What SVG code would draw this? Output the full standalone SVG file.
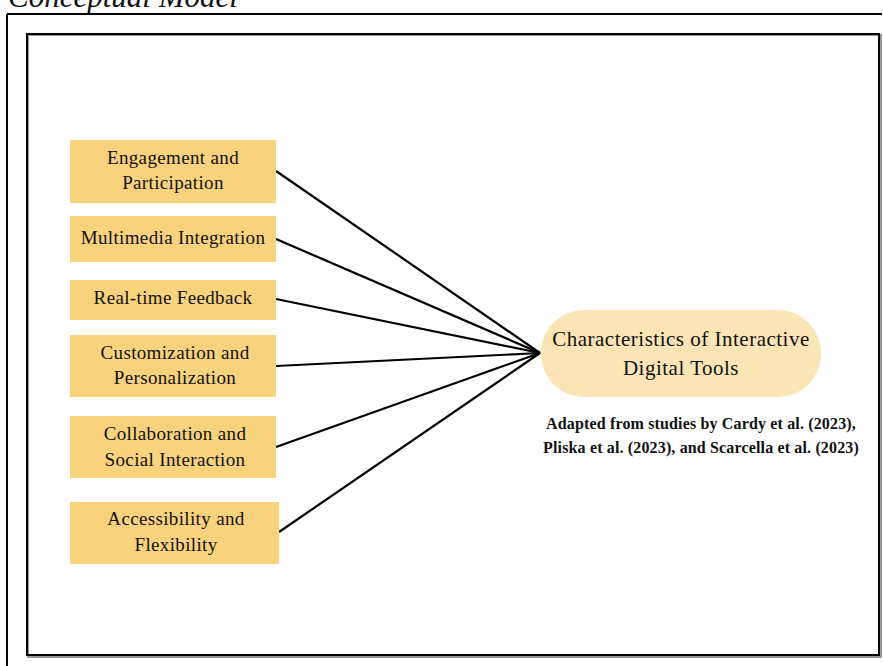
<svg xmlns="http://www.w3.org/2000/svg" width="883" height="666" viewBox="0 0 883 666">
<style>
.box{fill:#F9D27C;}
.t{font-family:"Liberation Serif","Times New Roman",serif;font-size:19px;letter-spacing:0.35px;fill:#111;text-anchor:middle;}
.c{font-family:"Liberation Serif","Times New Roman",serif;font-size:21px;letter-spacing:0.5px;fill:#111;text-anchor:middle;}
.b{font-family:"Liberation Serif","Times New Roman",serif;font-size:16px;font-weight:bold;letter-spacing:0.15px;fill:#111;text-anchor:middle;}
.ln{stroke:#000;stroke-width:2.2;fill:none;}
</style>
<rect width="883" height="666" fill="#fff"/>
<text x="8" y="7" font-family="Liberation Serif, serif" font-size="31" font-style="italic" fill="#111">Conceptual Model</text>
<g id="frame">
<line x1="7" y1="14" x2="882" y2="14" stroke="#000" stroke-width="2"/>
<line x1="7" y1="14" x2="7" y2="666" stroke="#000" stroke-width="2"/>
<rect x="28" y="35" width="853" height="622" fill="none" stroke="#999" stroke-width="2"/>
<rect x="27" y="34" width="852" height="621" fill="none" stroke="#000" stroke-width="2"/>
</g>
<g id="connectors">
<line class="ln" x1="276" y1="171" x2="540" y2="353"/>
<line class="ln" x1="276" y1="239" x2="540" y2="353"/>
<line class="ln" x1="276" y1="299" x2="540" y2="353"/>
<line class="ln" x1="276" y1="366" x2="540" y2="353"/>
<line class="ln" x1="276" y1="447" x2="540" y2="353"/>
<line class="ln" x1="279" y1="532" x2="540" y2="353"/>
</g>
<g id="n1"><rect class="box" x="70" y="140" width="206" height="63"/><text class="t" x="173" y="164">Engagement and</text><text class="t" x="173" y="189">Participation</text></g>
<g id="n2"><rect class="box" x="70" y="216" width="206" height="46"/><text class="t" x="173" y="244">Multimedia Integration</text></g>
<g id="n3"><rect class="box" x="70" y="280" width="206" height="40"/><text class="t" x="173" y="304">Real-time Feedback</text></g>
<g id="n4"><rect class="box" x="70" y="335" width="206" height="62"/><text class="t" x="175" y="359">Customization and</text><text class="t" x="175" y="384">Personalization</text></g>
<g id="n5"><rect class="box" x="70" y="416" width="206" height="62"/><text class="t" x="175" y="440">Collaboration and</text><text class="t" x="175" y="466">Social Interaction</text></g>
<g id="n6"><rect class="box" x="70" y="502" width="209" height="62"/><text class="t" x="176" y="525">Accessibility and</text><text class="t" x="176" y="551">Flexibility</text></g>
<g id="center"><rect x="541" y="310" width="280" height="87" rx="43" fill="#FBE5B5"/><text class="c" x="681" y="346">Characteristics of Interactive</text><text class="c" x="681" y="375">Digital Tools</text></g>
<g id="note"><text class="b" x="701" y="429">Adapted from studies by Cardy et al. (2023),</text><text class="b" x="701" y="453">Pliska et al. (2023), and Scarcella et al. (2023)</text></g>
</svg>
